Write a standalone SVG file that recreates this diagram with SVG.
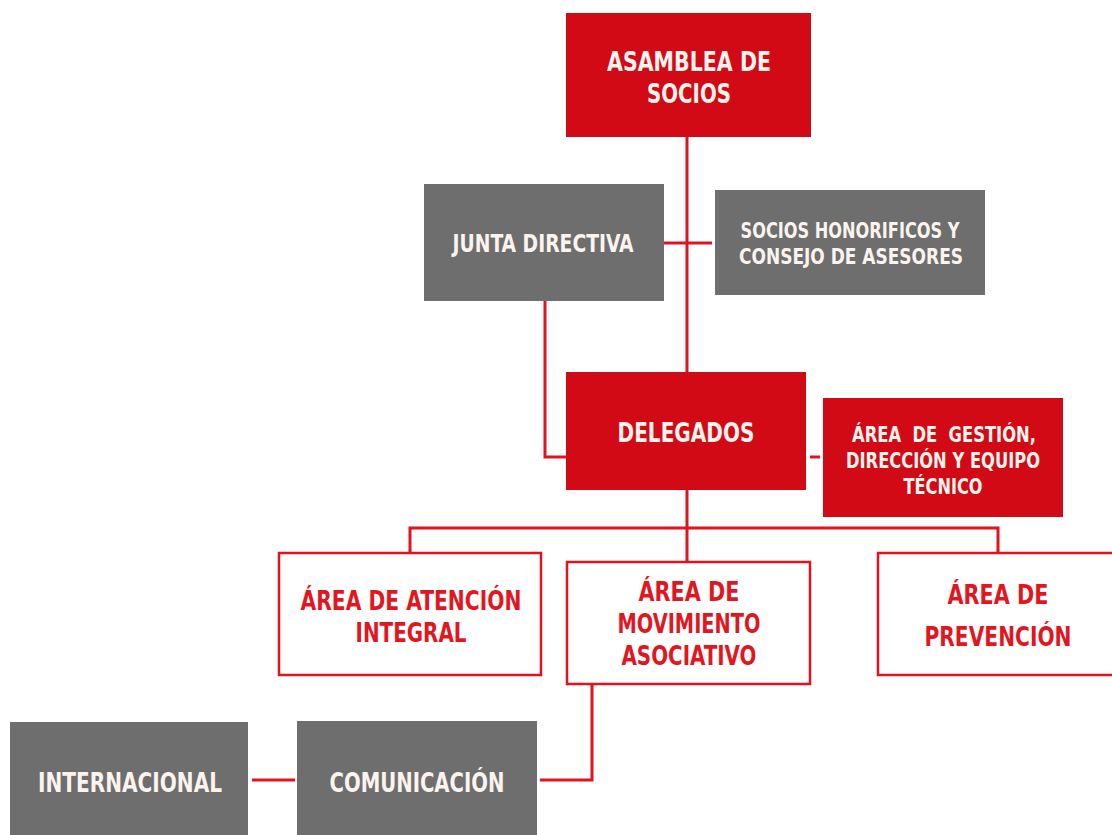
<svg xmlns="http://www.w3.org/2000/svg" width="1112" height="835" viewBox="0 0 1112 835">
<style>
.red{fill:#d20a15}
.gray{fill:#6e6e6e}
.out{fill:#fff;stroke:#e0131f;stroke-width:2.5}
.t{font-family:"DejaVu Sans Condensed","DejaVu Sans","Liberation Sans",sans-serif;font-weight:bold;text-anchor:middle}
.w{fill:#fbf4ee}
.r{fill:#e2161f}
.ln{stroke:#e0131f;stroke-width:3;fill:none}
</style>
<rect width="1112" height="835" fill="#fff"/>
<g id="connectors">
<path class="ln" d="M687 137V372"/>
<path class="ln" d="M664 243H712"/>
<path class="ln" d="M545 301V457H566"/>
<path class="ln" d="M810 457H820"/>
<path class="ln" d="M687 490V528"/>
<path class="ln" d="M410 553V528H998V553"/>
<path class="ln" d="M687 528V562"/>
<path class="ln" d="M592 684V780H540"/>
<path class="ln" d="M252 780H295"/>
</g>
<g id="asamblea">
<rect class="red" x="566" y="13" width="245" height="124"/>
<text class="t w" font-size="27" x="689" y="71" textLength="164" lengthAdjust="spacingAndGlyphs">ASAMBLEA DE</text>
<text class="t w" font-size="27" x="689" y="103" textLength="84" lengthAdjust="spacingAndGlyphs">SOCIOS</text>
</g>
<g id="junta">
<rect class="gray" x="424" y="184" width="240" height="117"/>
<text class="t w" font-size="24" x="543" y="252" textLength="181" lengthAdjust="spacingAndGlyphs">JUNTA DIRECTIVA</text>
</g>
<g id="socios-honorificos">
<rect class="gray" x="715" y="190" width="270" height="105"/>
<text class="t w" font-size="21" x="850" y="238" textLength="219" lengthAdjust="spacingAndGlyphs">SOCIOS HONORIFICOS Y</text>
<text class="t w" font-size="21" x="851" y="264" textLength="224" lengthAdjust="spacingAndGlyphs">CONSEJO DE ASESORES</text>
</g>
<g id="delegados">
<rect class="red" x="566" y="372" width="240" height="118"/>
<text class="t w" font-size="26" x="686" y="442" textLength="137" lengthAdjust="spacingAndGlyphs">DELEGADOS</text>
</g>
<g id="gestion">
<rect class="red" x="823" y="398" width="240" height="119"/>
<text class="t w" font-size="21" x="944" y="442" textLength="184" lengthAdjust="spacingAndGlyphs" xml:space="preserve">ÁREA  DE  GESTIÓN,</text>
<text class="t w" font-size="21" x="943" y="468" textLength="194" lengthAdjust="spacingAndGlyphs">DIRECCIÓN Y EQUIPO</text>
<text class="t w" font-size="21" x="943" y="494" textLength="79" lengthAdjust="spacingAndGlyphs">TÉCNICO</text>
</g>
<g id="atencion">
<rect class="out" x="279" y="553" width="262" height="122"/>
<text class="t r" font-size="27" x="411" y="610" textLength="221" lengthAdjust="spacingAndGlyphs">ÁREA DE ATENCIÓN</text>
<text class="t r" font-size="27" x="411" y="642" textLength="111" lengthAdjust="spacingAndGlyphs">INTEGRAL</text>
</g>
<g id="movimiento">
<rect class="out" x="567" y="562" width="243" height="122"/>
<text class="t r" font-size="27" x="689" y="601" textLength="101" lengthAdjust="spacingAndGlyphs">ÁREA DE</text>
<text class="t r" font-size="27" x="689" y="633" textLength="143" lengthAdjust="spacingAndGlyphs">MOVIMIENTO</text>
<text class="t r" font-size="27" x="689" y="665" textLength="135" lengthAdjust="spacingAndGlyphs">ASOCIATIVO</text>
</g>
<g id="prevencion">
<rect class="out" x="878" y="553" width="240" height="122"/>
<text class="t r" font-size="27" x="998" y="604" textLength="101" lengthAdjust="spacingAndGlyphs">ÁREA DE</text>
<text class="t r" font-size="27" x="998" y="646" textLength="147" lengthAdjust="spacingAndGlyphs">PREVENCIÓN</text>
</g>
<g id="internacional">
<rect class="gray" x="10" y="722" width="238" height="120"/>
<text class="t w" font-size="26" x="130" y="792" textLength="184" lengthAdjust="spacingAndGlyphs">INTERNACIONAL</text>
</g>
<g id="comunicacion">
<rect class="gray" x="297" y="721" width="240" height="121"/>
<text class="t w" font-size="26" x="417" y="792" textLength="175" lengthAdjust="spacingAndGlyphs">COMUNICACIÓN</text>
</g>
</svg>
